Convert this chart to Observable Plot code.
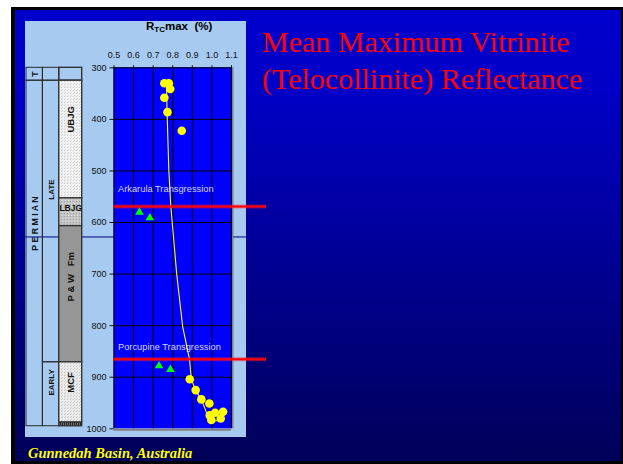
<!DOCTYPE html>
<html>
<head>
<meta charset="utf-8">
<script src="https://cdn.jsdelivr.net/npm/d3@7"></script>
<script src="https://cdn.jsdelivr.net/npm/@observablehq/plot@0.6"></script>
<style>
  html, body { margin: 0; padding: 0; background: #fff; }
  #page { position: relative; width: 623px; height: 464px; overflow: hidden; background: #fff; }
  #slide {
    position: absolute; left: 11px; top: 7px; width: 606px; height: 451px;
    border-left: 4px solid #000; border-top: 3px solid #000;
    border-right: 3px solid #000; border-bottom: 3px solid #000;
    background: linear-gradient(to bottom, #0000cc 0%, #0000c6 18%, #000058 100%);
  }
  #panel { position: absolute; left: 25px; top: 21px; width: 221px; height: 416px; background: #a6caf0; }
  .layer { position: absolute; left: 0; top: 0; }
  #title {
    position: absolute; left: 262px; top: 23px; color: #ff0000;
    font-family: "Liberation Serif", "Times New Roman", serif; font-size: 30px; line-height: 37px;
  }
  #axisTitle {
    position: absolute; left: 146px; top: 20px; width: 70px; color: #000;
    font-family: "Liberation Sans", Arial, sans-serif; font-weight: bold; font-size: 11.5px; white-space: pre;
  }
  #axisTitle sub { font-size: 8px; vertical-align: -2px; }
  #caption {
    position: absolute; left: 28px; top: 445px; color: #ffff00;
    font-family: "Liberation Serif", "Times New Roman", serif; font-style: italic; font-weight: bold; font-size: 14.5px;
  }
</style>
</head>
<body>
<div id="page">
  <div id="slide"></div>
  <div id="panel"></div>
  <div id="strat" class="layer"></div>
  <div id="chart" class="layer"></div>
  <div id="axisTitle">R<sub>TC</sub>max  (%)</div>
  <div id="title">Mean Maximum Vitrinite<br>(Telocollinite) Reflectance</div>
  <div id="caption">Gunnedah Basin, Australia</div>
</div>
<script>
// Axis ticks
const reflectanceTicks = [0.5, 0.6, 0.7, 0.8, 0.9, 1.0, 1.1];
const depthTicks = [300, 400, 500, 600, 700, 800, 900, 1000];

// Telocollinite reflectance samples (Rtc max %, depth m)
const rtcValue = [0.757, 0.780, 0.787, 0.757, 0.773, 0.846, 0.887, 0.917, 0.946, 0.987, 0.989, 1.016, 1.057, 1.045, 0.997];
const rtcDepth = [330, 330, 341, 358, 386, 422, 904, 925, 943, 951, 974, 969, 967, 980, 983];

// Samples near the marine transgressions
const transValue = [0.630, 0.683, 0.730, 0.788];
const transDepth = [580, 591, 878, 885];

// Reflectance trend with depth
const trendValue = [0.768, 0.771, 0.780, 0.790, 0.820, 0.851, 0.885, 0.895, 0.917, 0.946, 0.975, 0.997, 1.043];
const trendDepth = [330, 386, 499, 568, 699, 803, 864, 904, 926, 943, 971, 985, 984];

// Marine transgressions
const eventNames = ["Arkarula Transgression", "Porcupine Transgression"];
const eventDepth = [569, 865];
const eventLabelDepth = [536, 842];

// Stratigraphic column: period, epoch and formation intervals (m)
const periodNames = ["T", "P E R M I A N"];
const periodTop = [300, 325];
const periodBase = [325, 995];
const periodLabelDepth = [312, 602];

const epochNames = ["", "LATE", "EARLY"];
const epochTop = [300, 325, 871];
const epochBase = [325, 871, 995];
const epochLabelDepth = [312, 536, 910];

const formationNames = ["", "UBJG", "LBJG", "P & W   Fm", "MCF", ""];
const formationTop = [300, 325, 553, 607, 871, 988];
const formationBase = [325, 553, 607, 871, 988, 995];
const formationLabelDepth = [312, 400, 572, 705, 910, 991];
const formationFill = ["none", "url(#ubjg)", "url(#lbjg)", "#969696", "url(#mcf)", "url(#coal)"];
const formationRotate = [-90, -90, 0, -90, -90, -90];

// Reference depth line across the panel
const referenceDepth = [628];

const xDomain = [reflectanceTicks[0], reflectanceTicks[reflectanceTicks.length - 1]];
const yDomain = [depthTicks[0], depthTicks[depthTicks.length - 1]];
const yRange = [67.3, 428.3];
const font = "'Liberation Sans', Arial, sans-serif";

// ---------- stratigraphic column ----------
const colEdges = [0, 1, 2, 3.4];
const intervals = (names, tops, bases, col, extra = {}) =>
  names.map((name, i) => ({
    name, top: tops[i], base: bases[i], x1: colEdges[col], x2: colEdges[col + 1],
    ...Object.fromEntries(Object.entries(extra).map(([k, v]) => [k, v[i]]))
  }));
const periods = intervals(periodNames, periodTop, periodBase, 0, {label: periodLabelDepth});
const epochs = intervals(epochNames, epochTop, epochBase, 1, {label: epochLabelDepth});
const formations = intervals(formationNames, formationTop, formationBase, 2,
  {label: formationLabelDepth, fill: formationFill, rotate: formationRotate});

const strat = Plot.plot({
  width: 623, height: 464,
  marginLeft: 25, marginRight: 623 - 246, marginTop: 67.3, marginBottom: 464 - 428.3,
  style: {background: "none", fontFamily: font, overflow: "visible"},
  x: {domain: [0, colEdges[3]], range: [26, 81.7], axis: null},
  y: {domain: yDomain, range: yRange, axis: null},
  marks: [
    Plot.ruleY(referenceDepth, {stroke: "#000080", strokeWidth: 1}),
    Plot.rect([...periods, ...epochs], {x1: "x1", x2: "x2", y1: "top", y2: "base", fill: "none", stroke: "#2a2a2a", strokeWidth: 1}),
    Plot.rect(formations, {x1: "x1", x2: "x2", y1: "top", y2: "base", fill: "fill", stroke: "#333", strokeWidth: 1.4}),
    Plot.text(periods, {x: d => (d.x1 + d.x2) / 2, y: "label", text: "name", rotate: -90, fontSize: 8.8, fontWeight: "bold", fill: "#111"}),
    Plot.text(epochs, {x: d => (d.x1 + d.x2) / 2, y: "label", text: "name", rotate: -90, fontSize: 8, fontWeight: "bold", fill: "#111"}),
    Plot.text(formations.filter(d => d.rotate === -90), {x: d => (d.x1 + d.x2) / 2, y: "label", text: "name", rotate: -90, fontSize: 9.5, fontWeight: "bold", fill: "#111"}),
    Plot.text(formations.filter(d => d.rotate === 0), {x: d => (d.x1 + d.x2) / 2, y: "label", text: "name", fontSize: 8.5, fontWeight: "bold", fill: "#111"})
  ]
});
const ns = "http://www.w3.org/2000/svg";
const defs = document.createElementNS(ns, "defs");
defs.innerHTML = `
  <pattern id="ubjg" width="3" height="3" patternUnits="userSpaceOnUse">
    <rect width="3" height="3" fill="#f2f2f2"/><rect x="1" y="0" width="1" height="1" fill="#c8c8c8"/><rect x="2" y="2" width="1" height="1" fill="#d8d8d8"/>
  </pattern>
  <pattern id="lbjg" width="3" height="3" patternUnits="userSpaceOnUse">
    <rect width="3" height="3" fill="#c4c4c4"/><rect x="1" y="0" width="1" height="1" fill="#a0a0a0"/><rect x="2" y="2" width="1" height="1" fill="#e0e0e0"/>
  </pattern>
  <pattern id="mcf" width="3" height="3" patternUnits="userSpaceOnUse">
    <rect width="3" height="3" fill="#ececec"/><rect x="1" y="0" width="1" height="1" fill="#c0c0c0"/><rect x="2" y="2" width="1" height="1" fill="#d0d0d0"/>
  </pattern>
  <pattern id="coal" width="2" height="4" patternUnits="userSpaceOnUse">
    <rect width="2" height="4" fill="#222"/><rect x="1" width="1" height="4" fill="#777"/>
  </pattern>`;
strat.prepend(defs);
document.getElementById("strat").append(strat);

// ---------- reflectance profile ----------
const samples = rtcValue.map((v, i) => ({r: v, depth: rtcDepth[i]}));
const transSamples = transValue.map((v, i) => ({r: v, depth: transDepth[i]}));
const trend = trendValue.map((v, i) => ({r: v, depth: trendDepth[i]}));
const events = eventNames.map((name, i) => ({name, depth: eventDepth[i], labelDepth: eventLabelDepth[i]}));

const chart = Plot.plot({
  width: 623, height: 464,
  marginLeft: 113.5, marginRight: 623 - 266, marginTop: 67.3, marginBottom: 464 - 428.3,
  style: {background: "none", fontFamily: font, overflow: "visible"},
  x: {domain: xDomain, range: [113.5, 231]},
  y: {domain: yDomain, range: yRange},
  marks: [
    // plot area and its shadowed border
    Plot.rect([0], {x1: xDomain[0], x2: xDomain[1], y1: yDomain[0], y2: yDomain[1], fill: "#0000ff"}),
    Plot.ruleX([xDomain[1]], {y1: yDomain[0], y2: yDomain[1], stroke: "#808080", strokeWidth: 2, dx: 1}),
    Plot.ruleY([yDomain[1]], {x1: xDomain[0], x2: xDomain[1], stroke: "#808080", strokeWidth: 2, dy: 1}),
    // grid
    Plot.ruleX(reflectanceTicks, {y1: yDomain[0], y2: yDomain[1], stroke: "#000", strokeWidth: 1}),
    Plot.ruleY(depthTicks.slice(0, -1), {x1: xDomain[0], x2: xDomain[1], stroke: "#000", strokeWidth: 1}),
    Plot.axisX(reflectanceTicks, {anchor: "top", tickSize: 3, tickPadding: 7, fontSize: 9, tickFormat: d => d.toFixed(1), label: null, color: "#111"}),
    Plot.axisY(depthTicks, {anchor: "left", tickSize: 4, tickPadding: 3.5, fontSize: 9, tickFormat: d => String(d), label: null, color: "#111"}),
    // transgressions
    Plot.text(events, {x: xDomain[0], y: "labelDepth", text: "name", textAnchor: "start", dx: 4, fontSize: 9.3, fill: "#d4d4ff"}),
    Plot.line(trend, {x: "r", y: "depth", stroke: "#ffff00", strokeWidth: 1.1}),
    Plot.ruleY(events, {y: "depth", stroke: "#ff1a2a", strokeWidth: 4, strokeOpacity: 0.45}),
    Plot.ruleY(events, {y: "depth", stroke: "#ff0000", strokeWidth: 2}),
    Plot.dot(transSamples, {x: "r", y: "depth", symbol: "triangle", r: 3.2, fill: "#00ff00", stroke: "none"}),
    Plot.dot(samples, {x: "r", y: "depth", r: 4.3, fill: "#ffff00", stroke: "none"})
  ]
});
document.getElementById("chart").append(chart);
</script>
</body>
</html>
